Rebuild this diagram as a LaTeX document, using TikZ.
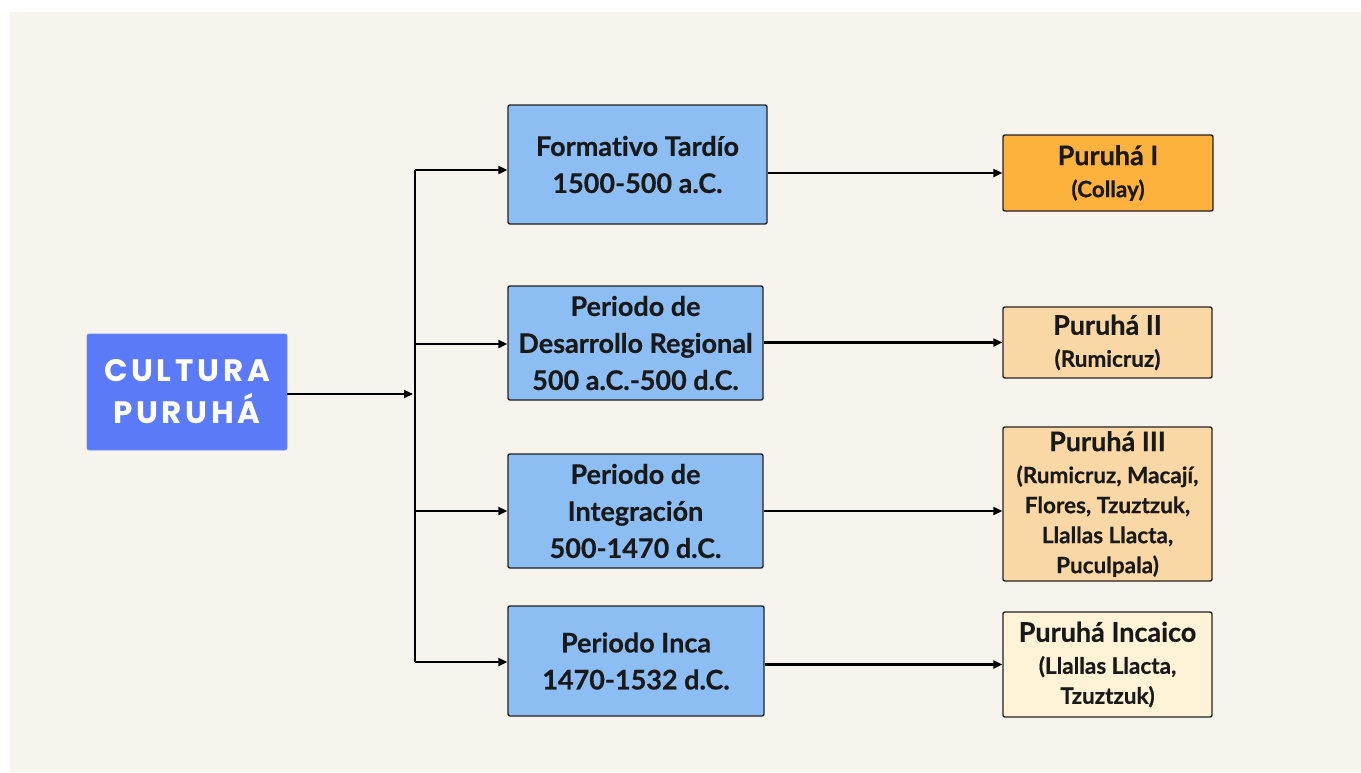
\documentclass[tikz,border=0pt]{standalone}
\usepackage{fontspec}
\setmainfont{Lato}[Ligatures=CommonOff, BoldFeatures={FakeBold=0.5}]
\newfontfamily\titlefont[LetterSpace=12]{Poppins}
\usetikzlibrary{arrows.meta}
\definecolor{bgbeige}{HTML}{F7F4EE}
\definecolor{mainblue}{HTML}{5A7AF7}
\definecolor{midblue}{HTML}{8DBEF3}
\definecolor{orangeA}{HTML}{FDB23E}
\definecolor{peach}{HTML}{FAD8A5}
\definecolor{cream}{HTML}{FEF3D7}
\definecolor{edge}{HTML}{222222}
\tikzset{
  mainbox/.style={rectangle, rounded corners=2pt, fill=mainblue, draw=mainblue!85!white, line width=0.8pt, text=white, align=center, inner sep=0pt, font=\titlefont\bfseries\fontsize{31}{42}\selectfont},
  midbox/.style={rectangle, rounded corners=2pt, fill=midblue, draw=edge, line width=1.4pt, align=center, inner sep=0pt, text=black!90, font=\bfseries\fontsize{27}{37}\selectfont},
  rbox/.style={rectangle, rounded corners=2pt, draw=edge, line width=1.4pt, align=center, inner sep=0pt, text=black!90, font=\bfseries\fontsize{22.5}{30}\selectfont},
  conn/.style={draw=black, line width=2.1pt, -{Triangle[length=9pt,width=8pt]}},
  plain/.style={draw=black, line width=2.1pt},
}
\newcommand{\rtitle}[1]{{\fontsize{27}{30}\selectfont #1}}
\begin{document}
\begin{tikzpicture}[x=1pt,y=-1pt]
\useasboundingbox (0,0) rectangle (1361,772);
\fill[white] (0,0) rectangle (1361,772);
\fill[bgbeige] (10,12) rectangle (1361,772);

\node[mainbox, minimum width=200pt, minimum height=116pt] (cult) at (187,392) {CULTURA\\PURUHÁ};

\node[midbox, minimum width=259pt, minimum height=119pt] (b1) at (637.5,164.5) {Formativo Tardío\\1500-500 a.C.};
\node[midbox, minimum width=255pt, minimum height=114pt] (b2) at (635.5,343) {Periodo de\\Desarrollo Regional\\500 a.C.-500 d.C.};
\node[midbox, minimum width=255pt, minimum height=114pt] (b3) at (635.5,511) {Periodo de\\Integración\\500-1470 d.C.};
\node[midbox, minimum width=256pt, minimum height=110pt] (b4) at (636,661) {Periodo Inca\\1470-1532 d.C.};

\node[rbox, fill=orangeA, minimum width=210pt, minimum height=76pt] (r1) at (1108,173) {\rtitle{Puruhá I}\\[2pt](Collay)};
\node[rbox, fill=peach, minimum width=209pt, minimum height=71pt] (r2) at (1107.5,342.5) {\rtitle{Puruhá II}\\[2pt](Rumicruz)};
\node[rbox, fill=peach, minimum width=209pt, minimum height=154pt] (r3) at (1107.5,504) {\rtitle{Puruhá III}\\[2pt](Rumicruz, Macají,\\Flores, Tzuztzuk,\\Llallas Llacta,\\Puculpala)};
\node[rbox, fill=cream, minimum width=209pt, minimum height=105pt] (r4) at (1107.5,664.5) {\rtitle{Puruhá Incaico}\\[2pt](Llallas Llacta,\\Tzuztzuk)};

\coordinate (hub) at (413,394);
\coordinate (j1) at (415,170);
\coordinate (j2) at (415,344);
\coordinate (j3) at (415,511);
\coordinate (j4) at (415,662);

\draw[conn] (cult.east |- hub) -- (hub);
\draw[plain] (j1) -- (j4);
\draw[conn] (j1) -- (j1 -| b1.west);
\draw[conn] (j2) -- (j2 -| b2.west);
\draw[conn] (j3) -- (j3 -| b3.west);
\draw[conn] (j4) -- (j4 -| b4.west);

\draw[conn] (b1.east |- r1.west) -- (r1.west);
\draw[conn] (b2.east |- r2.west) -- (r2.west);
\draw[conn] (b3.east) -- (b3.east -| r3.west);
\draw[conn] (b4.east |- r4.west) -- (r4.west);
\end{tikzpicture}
\end{document}
